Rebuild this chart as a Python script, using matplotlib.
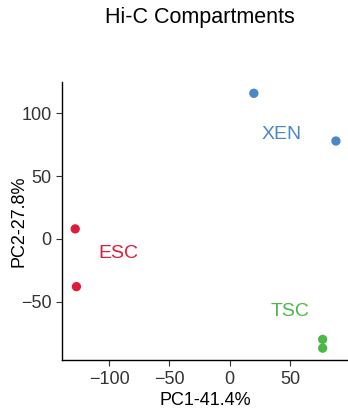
import matplotlib
matplotlib.use('Agg')
import matplotlib.pyplot as plt

plt.rcParams['font.family'] = ['Liberation Sans', 'DejaVu Sans']

# PCA coordinates per cell type
groups = ['ESC', 'XEN', 'TSC']
pc1 = {'ESC': [-128, -127], 'XEN': [20, 88], 'TSC': [77, 77]}
pc2 = {'ESC': [8, -38], 'XEN': [116, 78], 'TSC': [-80, -87]}
label_pos = {'ESC': (-92, -12), 'XEN': (43, 83), 'TSC': (50, -58)}
colors = {'ESC': '#DC1E3C', 'XEN': '#4A86C8', 'TSC': '#4DB848'}

fig = plt.figure(figsize=(3.48, 4.12), dpi=100)
ax = fig.add_axes([0.178, 0.126, 0.822, 0.675])

for g in groups:
    ax.scatter(pc1[g], pc2[g], s=45, color=colors[g], edgecolors='none', clip_on=False, zorder=3)
    ax.text(label_pos[g][0], label_pos[g][1], g, color=colors[g], fontsize=14,
            ha='center', va='center')

ax.set_xlim(-139, 98)
ax.set_ylim(-96.5, 125)
ax.set_xticks([-100, -50, 0, 50])
ax.set_yticks([-50, 0, 50, 100])
ax.set_xticklabels(['\u2212100', '\u221250', '0', '50'])
ax.set_yticklabels(['\u221250', '0', '50', '100'])
ax.tick_params(labelsize=13, length=4, width=0.8, colors='#333333', labelcolor='#333333')
for s in ['top', 'right']:
    ax.spines[s].set_visible(False)
for s in ['left', 'bottom']:
    ax.spines[s].set_linewidth(1)
    ax.spines[s].set_color('black')

ax.set_xlabel('PC1-41.4%', fontsize=13, labelpad=3)
ax.set_ylabel('PC2-27.8%', fontsize=13)
ax.yaxis.set_label_coords(-0.12, 0.5)
fig.text(0.573, 0.958, 'Hi-C Compartments', fontsize=15.5, ha='center', va='center')

fig.savefig('out.png', dpi=100)
